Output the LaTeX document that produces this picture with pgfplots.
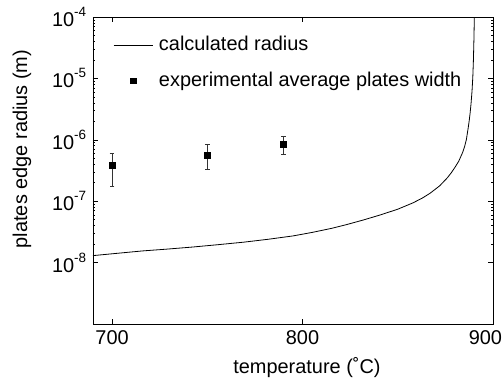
\documentclass[border=0pt]{standalone}
\usepackage{pgfplots}
\pgfplotsset{compat=1.18}
\usepackage{fontspec}
\setmainfont{Liberation Sans}
\newcommand{\fs}{\fontsize{20}{23}\selectfont}
\newcommand{\ex}[1]{10\raisebox{10bp}{\fontsize{13.5}{15}\selectfont #1}}
\pgfplotsset{
  mylineleg/.style={legend image code/.code={\draw[##1] (0bp,0bp) -- (39bp,0bp); \path (43bp,0bp);}},
  mymarkleg/.style={legend image code/.code={\draw[mark repeat=2,mark phase=2,##1] plot coordinates {(0bp,0bp) (19.5bp,0bp) (39bp,0bp)}; \path (43bp,0bp);}},
}
\begin{document}
\fs
\begin{tikzpicture}
\begin{axis}[
  scale only axis, width=400bp, height=307bp,
  xmin=690, xmax=900, ymode=log, ymin=1e-9, ymax=1e-4,
  xtick={700,800,900}, xticklabels={700,800,\makebox[18bp][r]{900}},
  ytick={1e-8,1e-7,1e-6,1e-5,1e-4},
  yticklabels={\ex{-8},\ex{-7},\ex{-6},\ex{-5},\ex{-4}},
  tick align=inside, major tick length=5bp, minor tick length=2.5bp,
  axis line style={line width=0.8bp},
  every tick/.style={black, line width=0.6bp},
  tick label style={font=\fs},
  xlabel={temperature (˚C)},
  ylabel={plates edge radius (m)},
  xlabel style={at={(axis description cs:0.535,-0.143)}, anchor=center, font=\fs},
  ylabel style={at={(axis description cs:-0.1775,0.57)}, anchor=center, font=\fs},
  legend cell align=left,
  legend style={draw=none, fill=none, at={(axis description cs:0.0425,0.95)}, anchor=north west,
    font=\fs, row sep=14bp},
]
\addplot[black, line width=0.8bp, mylineleg]
coordinates {
(690,1.30e-8) (703,1.42e-8) (716,1.55e-8) (729,1.66e-8) (742,1.79e-8)
(755,1.95e-8) (769,2.15e-8) (782,2.40e-8) (795,2.72e-8) (805,3.10e-8)
(815,3.60e-8) (823,4.15e-8) (832,4.95e-8) (841,6.0e-8) (850,7.41e-8)
(858,9.4e-8) (863,1.13e-7) (867,1.35e-7) (872,1.78e-7) (876,2.40e-7)
(878,2.88e-7) (880,3.55e-7) (882,4.47e-7) (884,6.17e-7) (885,7.59e-7)
(886,1.0e-6) (887,1.58e-6) (887.5,2.04e-6) (888,2.75e-6) (888.5,3.98e-6)
(889,6.31e-6) (889.4,1.05e-5) (889.7,1.91e-5) (890.0,4.47e-5) (890.2,1.0e-4) (890.35,3.16e-4)
};
\addlegendentry{calculated radius}
\addplot[black, only marks, mark=square*, mark size=2.8bp, mymarkleg,
  error bars/.cd, y dir=both, y explicit,
  error bar style={black!80, line width=0.7bp},
  error mark options={rotate=90, mark size=2.4bp, line width=0.7bp, black!80}]
table[x=T, y=r, y error plus=ep, y error minus=em] {
T r ep em
700 3.85e-7 2.2e-7 2.09e-7
750 5.6e-7 2.9e-7 2.25e-7
790 8.5e-7 3.0e-7 2.6e-7
};
\addlegendentry{experimental average plates width}
\end{axis}
\pgfresetboundingbox
\path[use as bounding box] ([xshift=-93bp,yshift=-58bp]current axis.south west) rectangle ([xshift=11bp,yshift=17bp]current axis.north east);
\end{tikzpicture}
\end{document}
